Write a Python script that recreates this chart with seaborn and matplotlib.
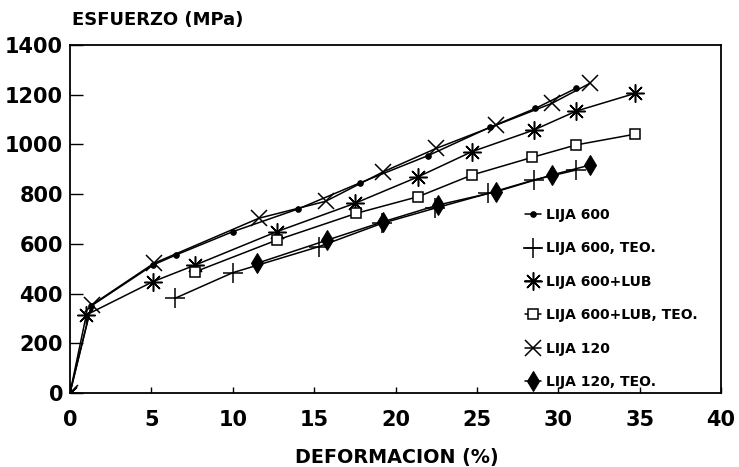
import matplotlib
matplotlib.use("Agg")
import matplotlib.pyplot as plt
import seaborn as sns
import pandas as pd

# Strain (%) and stress (MPa) for each specimen
lija600_x = [0.0, 1.3, 5.1, 6.5, 10.0, 14.0, 17.8, 22.0, 25.8, 28.6, 31.1]
lija600_y = [0, 350, 515, 555, 649, 740, 845, 955, 1069, 1145, 1226]

lija600_teo_x = [6.45, 10.0, 15.3, 19.15, 22.4, 25.7, 28.5, 31.1]
lija600_teo_y = [381, 484, 589, 682, 743, 803, 857, 897]

lija600_lub_x = [0.0, 1.0, 5.1, 7.7, 12.7, 17.5, 21.4, 24.7, 28.5, 31.1, 34.7]
lija600_lub_y = [0, 314, 448, 515, 649, 763, 870, 971, 1058, 1134, 1205]

lija600_lub_teo_x = [7.7, 12.7, 17.6, 21.4, 24.7, 28.4, 31.1, 34.7]
lija600_lub_teo_y = [488, 615, 723, 790, 877, 948, 998, 1041]

lija120_x = [0.0, 1.33, 5.16, 11.6, 15.7, 19.25, 22.5, 26.2, 29.6, 31.95]
lija120_y = [0, 354, 522, 703, 771, 890, 984, 1078, 1165, 1246]

lija120_teo_x = [11.5, 15.8, 19.25, 22.6, 26.2, 29.6, 31.95]
lija120_teo_y = [522, 615, 689, 756, 810, 877, 917]

labels = ["LIJA 600", "LIJA 600, TEO.", "LIJA 600+LUB",
          "LIJA 600+LUB, TEO.", "LIJA 120", "LIJA 120, TEO."]

x_ticks = [0, 5, 10, 15, 20, 25, 30, 35, 40]
y_ticks = [0, 200, 400, 600, 800, 1000, 1200, 1400]

series = [
    (lija600_x, lija600_y, dict(marker="o", markersize=4, mfc="black")),
    (lija600_teo_x, lija600_teo_y, dict(marker="+", markersize=14, mew=1.1)),
    (lija600_lub_x, lija600_lub_y, dict(marker=(8, 2, 0), markersize=13, mew=1.1)),
    (lija600_lub_teo_x, lija600_lub_teo_y, dict(marker="s", markersize=7.5, mfc="white", mew=1.1)),
    (lija120_x, lija120_y, dict(marker="x", markersize=12, mew=1.1)),
    (lija120_teo_x, lija120_teo_y, dict(marker="d", markersize=10, mfc="black")),
]

sns.set_style("white")
plt.rcParams["font.family"] = ["DejaVu Sans"]
plt.rcParams["font.weight"] = "bold"
plt.rcParams["text.color"] = "black"
plt.rcParams["xtick.color"] = "black"
plt.rcParams["ytick.color"] = "black"

fig = plt.figure(figsize=(7.39, 4.67), dpi=100)
ax = fig.add_axes([70 / 739, 1 - 393 / 467, 651 / 739, 348 / 467])

for (xs, ys, style), lab in zip(series, labels):
    df = pd.DataFrame({"x": xs, "y": ys})
    sns.lineplot(data=df, x="x", y="y", ax=ax, color="black", lw=1.1,
                 sort=False, estimator=None, label=lab, mec="black", **style)

ax.set_xlim(0, 40)
ax.set_ylim(0, 1400)
ax.set_xticks(x_ticks)
ax.set_yticks(y_ticks)
ax.set_xticklabels([str(t) for t in x_ticks], fontsize=15, fontweight="bold", color="black")
ax.set_yticklabels([str(t) for t in y_ticks], fontsize=15, fontweight="bold", color="black")
ax.tick_params(axis="y", direction="in", length=9, width=1, pad=5, left=True)
ax.tick_params(axis="x", direction="in", length=4, width=1, pad=12, bottom=True)
for sp in ax.spines.values():
    sp.set_color("black")
    sp.set_linewidth(1.3)
ax.set_xlabel("")
ax.set_ylabel("")

fig.text(397 / 739, 1 - 457 / 467, "DEFORMACION (%)", ha="center", va="center",
         fontsize=13.8, fontweight="bold", color="black")
fig.text(72 / 739, 1 - 20 / 467, "ESFUERZO (MPa)", ha="left", va="center",
         fontsize=13, fontweight="bold", color="black")

leg = ax.legend(loc="lower left", bbox_to_anchor=(0.69, -0.005), frameon=False,
                handlelength=1.2, handletextpad=0.3, labelspacing=1.4,
                prop=dict(size=10, weight="bold"), borderaxespad=0)
for t in leg.get_texts():
    t.set_color("black")

fig.savefig("out.png", dpi=100, facecolor="white")
